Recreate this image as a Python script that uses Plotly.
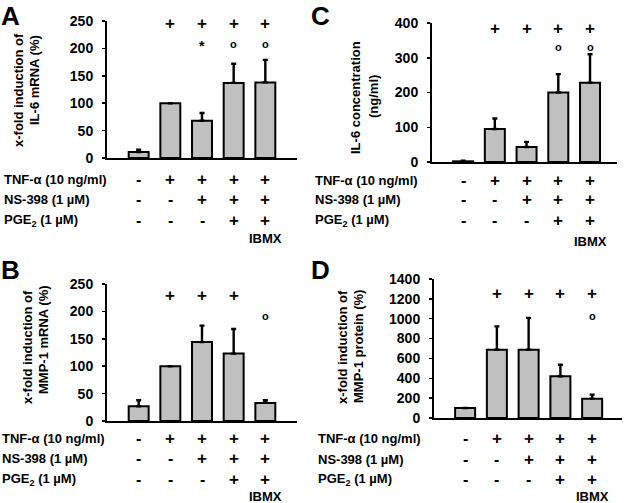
import plotly.graph_objects as go

W, H = 625, 503
FONT = "Liberation Sans, Arial, sans-serif"

# ---------------- data ----------------
categories = [0, 1, 2, 3, 4]
tnf_row = ["-", "+", "+", "+", "+"]
ns398_row = ["-", "-", "+", "+", "+"]
pge2_row = ["-", "-", "-", "+", "+"]
ibmx_row = ["", "", "", "", "IBMX"]
row_labels = ["TNF-α (10 ng/ml)", "NS-398 (1 µM)", "PGE<sub>2</sub> (1 µM)"]

# Panel A: IL-6 mRNA
a_values = [11, 100, 68, 137, 138]
a_err = [4, 0, 14, 35, 41]
a_plus = ["", "+", "+", "+", "+"]
a_sig = ["", "", "*", "o", "o"]

# Panel B: MMP-1 mRNA
b_values = [27, 100, 144, 123, 33]
b_err = [11, 0, 30, 45, 5]
b_plus = ["", "+", "+", "+", ""]
b_sig = ["", "", "", "", "o"]

# Panel C: IL-6 concentration
c_values = [2, 95, 43, 200, 228]
c_err = [2, 30, 15, 53, 82]
c_plus = ["", "+", "+", "+", "+"]
c_sig = ["", "", "", "o", "o"]

# Panel D: MMP-1 protein
d_values = [100, 688, 688, 420, 195]
d_err = [0, 235, 320, 117, 40]
d_plus = ["", "+", "+", "+", "+"]
d_sig = ["", "", "", "", "o"]

panels = [
    dict(letter="A", vals=a_values, err=a_err, plus=a_plus, sig=a_sig,
         xpx=(107, 297), ypx=(21, 158), xr=(-1.0, 5.0), yr=(0, 250), dt=50,
         title=["x-fold induction of", "IL-6 mRNA (%)"], tx=(18, 34), ty=(90, 80),
         rows=(179, 199, 220, 239), lab_x=3, plus_y=23, sig_y=44, let=(0, 0)),
    dict(letter="B", vals=b_values, err=b_err, plus=b_plus, sig=b_sig,
         xpx=(107, 297), ypx=(284, 421), xr=(-1.0, 5.0), yr=(0, 250), dt=50,
         title=["x-fold induction of", "MMP-1 mRNA (%)"], tx=(27, 43), ty=(347, 340),
         rows=(438, 458, 479, 496), lab_x=1, plus_y=295, sig_y=316, let=(0, 254)),
    dict(letter="C", vals=c_values, err=c_err, plus=c_plus, sig=c_sig,
         xpx=(432, 617), ypx=(23, 162), xr=(-0.98, 4.85), yr=(0, 400), dt=100,
         title=["IL-6 concentration", "(ng/ml)"], tx=(355, 373), ty=(97, 97),
         rows=(180, 200, 221, 241), lab_x=314, plus_y=28, sig_y=47, let=(310, 0)),
    dict(letter="D", vals=d_values, err=d_err, plus=d_plus, sig=d_sig,
         xpx=(434, 622), ypx=(279, 418), xr=(-0.98, 4.94), yr=(0, 1400), dt=200,
         title=["x-fold induction of", "MMP-1 protein (%)"], tx=(342, 358), ty=(347, 347),
         rows=(438, 459, 479, 496), lab_x=317, plus_y=293, sig_y=316, let=(310, 254)),
]


def px(x):
    return x / W


def py(y):
    return 1 - y / H


def ann(x, y, text, size, xref="paper", xanchor="center", yanchor="middle", angle=0):
    return dict(x=x, y=y, xref=xref, yref="paper", text=text, showarrow=False,
                xanchor=xanchor, yanchor=yanchor, textangle=angle,
                borderpad=0, align="center",
                font=dict(family=FONT, size=size, color="black", weight="bold"))


fig = go.Figure()
annotations = []
layout_axes = {}

for i, p in enumerate(panels, start=1):
    xa = "x" if i == 1 else f"x{i}"
    ya = "y" if i == 1 else f"y{i}"
    fig.add_trace(go.Bar(
        x=categories, y=p["vals"], xaxis=xa, yaxis=ya, width=0.63,
        marker=dict(color="#c0c0c0", line=dict(color="black", width=2)),
        error_y=dict(type="data", symmetric=False, array=p["err"],
                     arrayminus=[0] * len(p["err"]), color="black",
                     thickness=2.4, width=2.5),
        showlegend=False, hoverinfo="skip",
    ))
    xkey = "xaxis" if i == 1 else f"xaxis{i}"
    ykey = "yaxis" if i == 1 else f"yaxis{i}"
    layout_axes[xkey] = dict(
        domain=[px(p["xpx"][0]), px(p["xpx"][1])], range=list(p["xr"]),
        anchor=ya, showline=True, linecolor="black", linewidth=2,
        showticklabels=False, ticks="", showgrid=False, zeroline=False,
        fixedrange=True, automargin=False,
    )
    layout_axes[ykey] = dict(
        domain=[py(p["ypx"][1]), py(p["ypx"][0])], range=list(p["yr"]),
        anchor=xa, showline=True, linecolor="black", linewidth=2,
        ticks="outside", ticklen=3, tickwidth=1.5, tickcolor="black",
        dtick=p["dt"], tick0=0, showgrid=False, zeroline=False,
        tickfont=dict(family=FONT, size=14, color="black", weight="bold"),
        ticklabelstandoff=6, automargin=False, fixedrange=True,
    )
    xref = xa
    # significance rows above bars
    for c, s in zip(categories, p["plus"]):
        if s:
            annotations.append(ann(c, py(p["plus_y"]), s, 17, xref=xref))
    for c, s in zip(categories, p["sig"]):
        if s == "o":
            annotations.append(ann(c, py(p["sig_y"]), "o", 11, xref=xref))
        elif s:
            annotations.append(ann(c, py(p["sig_y"] + 2), s, 14, xref=xref))
    # treatment table
    for row_vals, ry, lab in zip([tnf_row, ns398_row, pge2_row], p["rows"][:3], row_labels):
        annotations.append(ann(px(p["lab_x"]), py(ry), lab, 13, xanchor="left"))
        for c, s in zip(categories, row_vals):
            annotations.append(ann(c, py(ry), s, 17 if s == "+" else 16, xref=xref))
    for c, s in zip(categories, ibmx_row):
        if s:
            annotations.append(ann(c, py(p["rows"][3]), s, 13, xref=xref))
    # y-axis titles (two rotated lines)
    for tline, tx, ty in zip(p["title"], p["tx"], p["ty"]):
        annotations.append(ann(px(tx), py(ty), tline, 13, angle=-90))
    # panel letter
    annotations.append(ann(px(p["let"][0]), py(p["let"][1]), p["letter"], 26,
                           xanchor="left", yanchor="top"))

fig.update_layout(
    width=W, height=H, margin=dict(l=0, r=0, t=0, b=0, autoexpand=False),
    paper_bgcolor="white", plot_bgcolor="white",
    annotations=annotations, bargap=0.3, hovermode=False,
    **layout_axes,
)

fig.write_html("out.html", config={"displayModeBar": False, "staticPlot": True},
               post_script="document.body.style.margin='0';document.body.style.padding='0';")
